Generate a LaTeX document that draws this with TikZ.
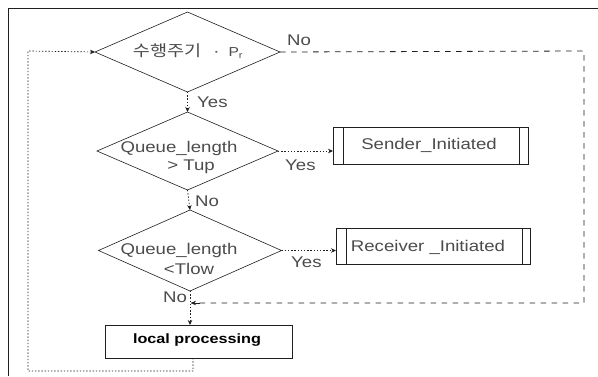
\documentclass[tikz,border=0pt]{standalone}
\usepackage{fontspec}
\setmainfont[FakeStretch=1.2]{Liberation Sans}
\newfontfamily\krfont[FakeStretch=1.2]{Noto Sans CJK KR}
\usetikzlibrary{shapes.geometric,arrows.meta,calc}
\definecolor{ink}{gray}{0.12}
\definecolor{soft}{gray}{0.3}
\tikzset{
  x=1pt,y=-1pt,
  every node/.style={font=\fontsize{15.5}{18}\selectfont,text=soft},
  decision/.style={diamond,draw=ink,line width=0.6pt,inner sep=0pt,outer sep=0pt,align=center},
  procbox/.style={rectangle,draw=ink,line width=0.7pt,inner sep=0pt,outer sep=0pt,align=center,anchor=north west},
  frameline/.style={draw=ink,line width=0.9pt},
  dotline/.style={draw=ink,line width=0.7pt,dash pattern=on 1.4pt off 1.8pt},
  dashline/.style={draw=ink,line width=0.8pt,dash pattern=on 5.5pt off 5.5pt},
  tip/.style={-{Stealth[length=5pt,width=4.5pt]}},
  lab/.style={inner sep=0pt,anchor=west},
}
\begin{document}
\begin{tikzpicture}
\useasboundingbox (0,0) rectangle (598,376);
\fill[white] (0,0) rectangle (598,376);
\coordinate (fa) at (8,376);
\coordinate (fb) at (8,8);
\coordinate (fc) at (598,8);
\draw[frameline] (fa) -- (fb) -- (fc);

\node[decision,aspect=2.3,minimum width=185pt,minimum height=80pt] (d1) at (187.5,52) {};
\node (d1t) at (188,51) {{\krfont 수행주기}\hspace{12pt}·\hspace{9pt}{\fontsize{13}{15}\selectfont P\textsubscript{r}}};
\node[decision,aspect=2.3,minimum width=181pt,minimum height=78pt] (d2) at (187.5,151) {};
\node[align=center] (d2t) at (179,157) {Queue\_length\\[0pt]\hspace*{24pt}> Tup};
\node[decision,aspect=2.3,minimum width=183pt,minimum height=81pt] (d3) at (190,250.5) {};
\node[align=center] (d3t) at (179,259) {Queue\_length\\[2pt]\hspace*{20pt}<Tlow};

\node[procbox,minimum width=187pt,minimum height=33pt] (lp) at (105,325) {};
\node (lpt) at (197,340) {\bfseries\fontsize{13.5}{15}\selectfont\textcolor{black}{local processing}};
\node[procbox,minimum width=195pt,minimum height=37pt] (snd) at (333,127) {};
\node (sndt) at (429,145) {Sender\_Initiated};
\node[procbox,minimum width=194pt,minimum height=36pt] (rcv) at (336,228) {};
\node (rcvt) at (428,247) {Receiver \_Initiated};

\draw[ink,line width=0.6pt] ($(snd.north west)+(10,0)$) -- ($(snd.south west)+(10,0)$);
\draw[ink,line width=0.6pt] ($(snd.north east)+(-9,0)$) -- ($(snd.south east)+(-9,0)$);
\draw[ink,line width=0.7pt] ($(rcv.north west)+(10,0)$) -- ($(rcv.south west)+(10,0)$);
\draw[ink,line width=0.7pt] ($(rcv.north east)+(-8,0)$) -- ($(rcv.south east)+(-8,0)$);

\coordinate (loopA) at (193,371);
\coordinate (loopB) at (28,371);
\coordinate (loopC) at (28,51);
\coordinate (noA) at (584,51);
\coordinate (noB) at (584,303);
\coordinate (join) at (191,303);

\draw[dotline,tip] (d1.south) -- (d2.north);
\draw[dotline,tip] (d2.south) -- (d3.north);
\draw[dotline,tip] (d3.south) -- (lp.north -| d3.south);
\draw[dotline,tip] (d2.east) -- (snd.west |- d2.east);
\draw[dotline,tip] (d3.east) -- (rcv.west |- d3.east);
\draw[dotline,tip] (lp.south -| loopA) -- (loopA) -- (loopB) -- (loopC) -- (d1.west);
\draw[dashline] (d1.east) -- (noA) -- (noB) -- (join);
\draw[ink,tip,line width=0.6pt] (200,303) -- (join);

\node[lab] (l1) at (287,40) {No};
\node[lab] (l2) at (197,102) {Yes};
\node[lab] (l3) at (285,165) {Yes};
\node[lab] (l4) at (195,201) {No};
\node[lab] (l5) at (291,262) {Yes};
\node[lab] (l6) at (163,297) {No};
\end{tikzpicture}
\end{document}
